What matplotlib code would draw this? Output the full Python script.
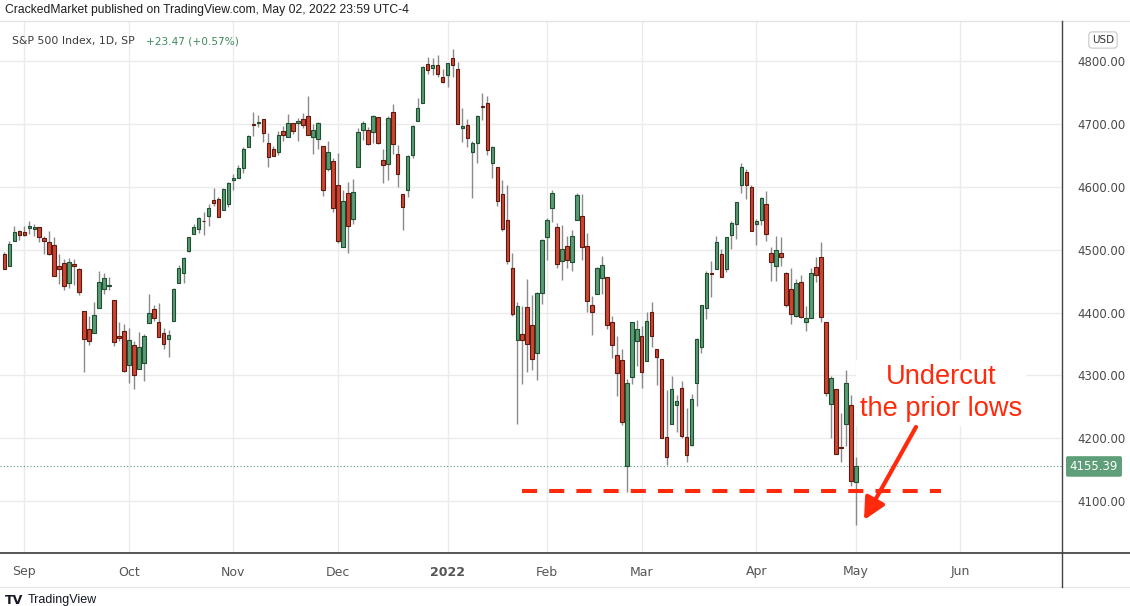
import numpy as np
import matplotlib.pyplot as plt
from matplotlib.lines import Line2D
from matplotlib.transforms import blended_transform_factory

# --- S&P 500 daily candles, Aug 26 2021 - May 02 2022 ---
dates = [
    "2021-08-26", "2021-08-27", "2021-08-30", "2021-08-31",
    "2021-09-01", "2021-09-02", "2021-09-03", "2021-09-07", "2021-09-08", "2021-09-09", "2021-09-10",
    "2021-09-13", "2021-09-14", "2021-09-15", "2021-09-16", "2021-09-17", "2021-09-20", "2021-09-21",
    "2021-09-22", "2021-09-23", "2021-09-24", "2021-09-27", "2021-09-28", "2021-09-29", "2021-09-30",
    "2021-10-01", "2021-10-04", "2021-10-05", "2021-10-06", "2021-10-07", "2021-10-08", "2021-10-11",
    "2021-10-12", "2021-10-13", "2021-10-14", "2021-10-15", "2021-10-18", "2021-10-19", "2021-10-20",
    "2021-10-21", "2021-10-22", "2021-10-25", "2021-10-26", "2021-10-27", "2021-10-28", "2021-10-29",
    "2021-11-01", "2021-11-02", "2021-11-03", "2021-11-04", "2021-11-05", "2021-11-08", "2021-11-09",
    "2021-11-10", "2021-11-11", "2021-11-12", "2021-11-15", "2021-11-16", "2021-11-17", "2021-11-18",
    "2021-11-19", "2021-11-22", "2021-11-23", "2021-11-24", "2021-11-26", "2021-11-29", "2021-11-30",
    "2021-12-01", "2021-12-02", "2021-12-03", "2021-12-06", "2021-12-07", "2021-12-08", "2021-12-09",
    "2021-12-10", "2021-12-13", "2021-12-14", "2021-12-15", "2021-12-16", "2021-12-17", "2021-12-20",
    "2021-12-21", "2021-12-22", "2021-12-23", "2021-12-27", "2021-12-28", "2021-12-29", "2021-12-30",
    "2021-12-31",
    "2022-01-03", "2022-01-04", "2022-01-05", "2022-01-06", "2022-01-07", "2022-01-10", "2022-01-11",
    "2022-01-12", "2022-01-13", "2022-01-14", "2022-01-18", "2022-01-19", "2022-01-20", "2022-01-21",
    "2022-01-24", "2022-01-25", "2022-01-26", "2022-01-27", "2022-01-28", "2022-01-31",
    "2022-02-01", "2022-02-02", "2022-02-03", "2022-02-04", "2022-02-07", "2022-02-08", "2022-02-09",
    "2022-02-10", "2022-02-11", "2022-02-14", "2022-02-15", "2022-02-16", "2022-02-17", "2022-02-18",
    "2022-02-22", "2022-02-23", "2022-02-24", "2022-02-25", "2022-02-28",
    "2022-03-01", "2022-03-02", "2022-03-03", "2022-03-04", "2022-03-07", "2022-03-08", "2022-03-09",
    "2022-03-10", "2022-03-11", "2022-03-14", "2022-03-15", "2022-03-16", "2022-03-17", "2022-03-18",
    "2022-03-21", "2022-03-22", "2022-03-23", "2022-03-24", "2022-03-25", "2022-03-28", "2022-03-29",
    "2022-03-30", "2022-03-31",
    "2022-04-01", "2022-04-04", "2022-04-05", "2022-04-06", "2022-04-07", "2022-04-08", "2022-04-11",
    "2022-04-12", "2022-04-13", "2022-04-14", "2022-04-18", "2022-04-19", "2022-04-20", "2022-04-21",
    "2022-04-22", "2022-04-25", "2022-04-26", "2022-04-27", "2022-04-28", "2022-04-29",
    "2022-05-02",
]

opens = [
    4493.75, 4474.10, 4513.76, 4529.75,
    4528.80, 4534.48, 4532.42, 4535.38, 4518.09, 4513.02, 4506.92, 4474.81, 4479.33, 4447.49, 4477.09,
    4469.74, 4402.95, 4374.45, 4367.43, 4406.75, 4438.04, 4442.12, 4419.54, 4362.41, 4370.67,
    4317.16, 4348.84, 4309.87, 4319.57, 4383.73, 4406.51, 4385.44, 4368.31, 4358.01, 4386.75, 4447.69,
    4463.72, 4497.34, 4524.42, 4532.24, 4546.12, 4553.69, 4578.69, 4580.22, 4562.84, 4572.87,
    4610.62, 4613.34, 4630.65, 4662.93, 4699.26, 4701.48, 4707.25, 4670.26, 4659.39, 4655.24, 4689.30,
    4679.42, 4701.50, 4700.72, 4708.44, 4712.00, 4678.48, 4675.78, 4664.63, 4628.75, 4640.25,
    4602.82, 4504.73, 4589.49, 4548.37, 4631.97, 4690.86, 4691.00, 4687.64, 4710.30, 4642.99, 4636.46,
    4719.13, 4652.50, 4587.90, 4594.96, 4650.36, 4703.96, 4733.99, 4795.49, 4788.64, 4794.23, 4775.21,
    4778.14, 4804.51, 4787.99, 4693.39, 4697.66, 4655.34, 4669.14, 4728.59, 4733.56, 4637.99, 4632.24,
    4588.03, 4547.35, 4471.38, 4356.32, 4366.64, 4408.43, 4380.58, 4336.19, 4431.79,
    4519.57, 4566.39, 4535.41, 4482.79, 4505.75, 4480.02, 4547.00, 4553.24, 4506.27, 4412.61, 4429.28,
    4455.75, 4456.06, 4384.57, 4332.74, 4324.93, 4155.77, 4298.38, 4354.17,
    4363.14, 4322.56, 4401.31, 4342.12, 4327.01, 4202.66, 4223.10, 4252.55, 4279.50, 4202.75, 4188.82,
    4288.14, 4345.11, 4407.34, 4462.40, 4469.10, 4493.10, 4469.98, 4522.66, 4541.09, 4602.86, 4624.20,
    4599.02,
    4540.32, 4547.97, 4572.45, 4494.17, 4474.65, 4494.15, 4462.64, 4437.59, 4394.30, 4449.12, 4385.63,
    4390.63, 4472.26, 4489.17, 4385.83, 4255.34, 4278.14, 4186.52, 4222.58, 4253.75,
    4130.61,
]

highs = [
    4495.90, 4513.33, 4537.36, 4531.39,
    4537.11, 4545.85, 4541.45, 4535.38, 4521.79, 4529.90, 4520.47, 4492.99, 4485.68, 4486.87, 4485.87,
    4471.52, 4402.95, 4394.87, 4416.75, 4465.40, 4463.12, 4457.30, 4419.54, 4385.57, 4382.55,
    4375.19, 4355.51, 4369.23, 4365.57, 4429.97, 4412.02, 4415.88, 4374.89, 4372.87, 4439.73, 4475.82,
    4488.75, 4520.40, 4540.87, 4551.44, 4559.67, 4572.62, 4598.53, 4584.57, 4597.55, 4608.08,
    4620.34, 4635.15, 4663.46, 4683.00, 4718.50, 4714.92, 4708.53, 4684.85, 4664.55, 4688.47, 4697.42,
    4714.95, 4701.50, 4708.80, 4717.75, 4743.83, 4699.39, 4702.87, 4664.63, 4672.95, 4646.02,
    4652.94, 4595.46, 4608.03, 4612.60, 4694.04, 4705.06, 4695.26, 4713.57, 4710.30, 4660.47, 4712.60,
    4731.99, 4666.70, 4587.90, 4651.14, 4697.67, 4740.74, 4791.49, 4807.02, 4804.06, 4808.93, 4786.83,
    4796.64, 4818.62, 4797.70, 4725.01, 4707.95, 4673.02, 4714.13, 4748.83, 4744.13, 4665.13, 4632.24,
    4611.55, 4602.11, 4494.52, 4417.35, 4411.01, 4453.23, 4428.74, 4432.72, 4516.89,
    4550.49, 4595.31, 4542.88, 4539.66, 4521.86, 4531.32, 4590.03, 4588.92, 4526.33, 4426.22, 4472.77,
    4489.55, 4456.06, 4394.60, 4362.12, 4341.51, 4294.73, 4385.34, 4388.84,
    4378.45, 4401.48, 4416.78, 4342.12, 4327.01, 4276.94, 4299.40, 4268.28, 4291.01, 4247.57, 4271.05,
    4358.90, 4412.67, 4465.40, 4481.75, 4522.00, 4501.07, 4520.58, 4546.03, 4575.65, 4637.30, 4627.77,
    4603.07,
    4548.70, 4583.50, 4593.45, 4503.94, 4521.16, 4520.41, 4464.35, 4471.00, 4453.92, 4460.46, 4410.31,
    4471.03, 4488.29, 4512.94, 4385.83, 4299.02, 4278.14, 4240.71, 4308.45, 4269.68,
    4169.81,
]

lows = [
    4468.99, 4474.10, 4513.76, 4515.80,
    4522.02, 4524.66, 4521.94, 4513.00, 4493.95, 4492.07, 4457.66, 4445.70, 4435.46, 4438.37, 4443.80,
    4427.76, 4305.91, 4347.96, 4367.43, 4406.75, 4430.27, 4436.19, 4346.33, 4355.08, 4306.24,
    4288.52, 4278.94, 4309.87, 4290.49, 4383.73, 4386.22, 4360.59, 4342.09, 4329.92, 4386.75, 4447.69,
    4447.47, 4496.41, 4524.40, 4526.89, 4524.00, 4537.36, 4569.17, 4551.66, 4562.84, 4567.59,
    4595.06, 4613.34, 4621.19, 4662.59, 4681.32, 4694.39, 4670.87, 4630.86, 4648.31, 4650.77, 4672.86,
    4679.42, 4684.41, 4672.78, 4694.22, 4682.17, 4652.66, 4659.89, 4585.43, 4625.26, 4560.00,
    4510.27, 4504.73, 4495.12, 4540.51, 4631.97, 4674.52, 4665.98, 4670.24, 4667.60, 4606.52, 4611.22,
    4651.89, 4600.22, 4531.10, 4583.16, 4645.53, 4703.96, 4733.99, 4780.04, 4778.08, 4775.33, 4765.75,
    4758.17, 4774.27, 4699.44, 4671.26, 4662.74, 4582.24, 4638.27, 4706.71, 4650.29, 4614.75, 4568.70,
    4530.20, 4477.95, 4395.34, 4222.62, 4287.11, 4304.80, 4309.50, 4292.46, 4414.02,
    4483.53, 4544.32, 4470.39, 4451.50, 4471.47, 4465.40, 4547.00, 4484.31, 4401.41, 4364.84, 4429.28,
    4429.68, 4373.81, 4327.22, 4267.11, 4221.51, 4114.65, 4286.83, 4315.12,
    4279.54, 4322.56, 4345.56, 4284.98, 4199.85, 4157.87, 4223.10, 4209.80, 4200.49, 4161.72, 4187.90,
    4251.99, 4335.65, 4390.57, 4424.30, 4469.10, 4455.81, 4465.17, 4501.07, 4517.69, 4589.66, 4581.32,
    4530.41,
    4507.57, 4539.21, 4514.17, 4450.04, 4450.30, 4474.60, 4408.38, 4381.34, 4392.70, 4390.77, 4370.30,
    4390.63, 4448.76, 4384.47, 4267.62, 4200.82, 4175.04, 4162.90, 4188.63, 4124.28,
    4062.51,
]

closes = [
    4469.91, 4509.37, 4528.79, 4522.68,
    4524.09, 4536.95, 4535.43, 4520.03, 4514.07, 4493.28, 4458.58, 4468.73, 4443.05, 4480.70, 4473.75,
    4432.99, 4357.73, 4354.19, 4395.64, 4448.98, 4455.48, 4443.11, 4352.63, 4359.46, 4307.54,
    4357.04, 4300.46, 4345.72, 4363.55, 4399.76, 4391.34, 4361.19, 4350.65, 4363.80, 4438.26, 4471.37,
    4486.46, 4519.63, 4536.19, 4549.78, 4544.90, 4566.48, 4574.79, 4551.68, 4596.42, 4605.38,
    4613.67, 4630.65, 4660.57, 4680.06, 4697.53, 4701.70, 4685.25, 4646.71, 4649.27, 4682.85, 4682.80,
    4700.90, 4688.67, 4704.54, 4697.96, 4682.94, 4690.70, 4701.46, 4594.62, 4655.27, 4567.00,
    4513.04, 4577.10, 4538.43, 4591.67, 4686.75, 4701.21, 4667.45, 4712.02, 4668.97, 4634.09, 4709.85,
    4668.67, 4620.64, 4568.02, 4649.23, 4696.56, 4725.79, 4791.19, 4786.35, 4793.06, 4778.73, 4766.18,
    4796.56, 4793.54, 4700.58, 4696.05, 4677.03, 4670.29, 4713.07, 4726.35, 4659.03, 4662.85, 4577.11,
    4532.76, 4482.73, 4397.94, 4410.13, 4356.45, 4349.93, 4326.51, 4431.85, 4515.55,
    4546.54, 4589.38, 4477.44, 4500.53, 4483.87, 4521.54, 4587.18, 4504.08, 4418.64, 4401.67, 4471.07,
    4475.01, 4380.26, 4348.87, 4304.76, 4225.50, 4288.70, 4384.65, 4373.94,
    4306.26, 4386.54, 4363.49, 4328.87, 4201.09, 4170.70, 4277.88, 4259.52, 4204.31, 4173.11, 4262.45,
    4357.86, 4411.67, 4463.12, 4461.18, 4511.61, 4456.24, 4520.16, 4543.06, 4575.52, 4631.60, 4602.45,
    4530.41,
    4545.86, 4582.64, 4525.12, 4481.15, 4500.21, 4488.28, 4412.53, 4397.45, 4446.59, 4392.59, 4391.69,
    4462.21, 4459.45, 4393.66, 4271.78, 4296.12, 4175.20, 4183.96, 4287.50, 4131.93,
    4155.39,
]

month_labels = ["Sep", "Oct", "Nov", "Dec", "2022", "Feb", "Mar", "Apr", "May", "Jun"]
may_trading_days = 21           # used to place the (future) Jun marker
price_ticks = [4100, 4200, 4300, 4400, 4500, 4600, 4700, 4800]
support_level = 4116            # the prior lows, dashed line
change_text = "+23.47 (+0.57%)"

GREEN = "#5a9b73"
RED = "#cd4531"
ANNOT = "#ff2a0c"

fig = plt.figure(figsize=(11.3, 6.06), dpi=100)
W, H = 1130, 606
ax = fig.add_axes([0, 53 / H, 1062 / W, 531 / H])

x = np.arange(len(dates))
o = np.array(opens)
hi = np.array(highs)
lo = np.array(lows)
c = np.array(closes)
up = c >= o

# wicks then bodies
ax.vlines(x, lo, hi, color="#8a8a8a", lw=1, zorder=2)
ax.bar(x, np.maximum(np.abs(c - o), 1.2), bottom=np.minimum(o, c), width=0.7,
       color=np.where(up, GREEN, RED), edgecolor=np.where(up, "#1f4f31", "#5c1a10"),
       linewidth=0.8, zorder=3)

ax.set_xlim(-0.88, 212.4)
ax.set_ylim(4017.8, 4862)

# month gridlines / labels
month_pos = [i for i in range(1, len(dates)) if dates[i][:7] != dates[i - 1][:7]]
month_pos.append(month_pos[-1] + may_trading_days)
ax.set_xticks(month_pos, month_labels)
for t in ax.get_xticklabels():
    if t.get_text() == "2022":
        t.set_fontweight("bold")
        t.set_color("#222222")
ax.tick_params(axis="x", length=0, pad=9, labelsize=9, labelcolor="#555555")

ax.set_yticks(price_ticks, [f"{v:.2f}" for v in price_ticks])
ax.yaxis.tick_right()
ax.tick_params(axis="y", length=0, pad=11, labelsize=8.5, labelcolor="#4a4a4a")

ax.grid(color="#ebebeb", lw=1)
ax.set_axisbelow(True)
for s in ax.spines.values():
    s.set_visible(False)

# last price dotted line + tag
ax.axhline(c[-1], color=GREEN, ls=(0, (1, 2)), lw=0.8, zorder=1)
tag_tr = blended_transform_factory(ax.transAxes, ax.transData)
ax.text(1094 / 1062, c[-1], f"{c[-1]:.2f}", transform=tag_tr, ha="center", va="center",
        color="white", fontsize=8.5, clip_on=False,
        bbox=dict(boxstyle="round,pad=0.32,rounding_size=0.15", fc="#5e9f79", ec="none"))

# support / prior lows
ax.plot([104, 188], [support_level, support_level], color=ANNOT, lw=2.9,
        ls=(0, (3.75, 3.0)), solid_capstyle="butt", dash_capstyle="butt", zorder=4)

# annotation
ax.text(941 / 1062, (553 - 393) / 531, "Undercut\nthe prior lows", transform=ax.transAxes,
        ha="center", va="center", multialignment="center", fontsize=19.6,
        family="Liberation Sans", color=ANNOT, linespacing=1.3, zorder=5,
        bbox=dict(boxstyle="square,pad=0.15", fc="white", ec="none"))
ax.annotate("", xy=(864 / 1062, (553 - 520) / 531), xytext=(916 / 1062, (553 - 427) / 531),
            xycoords="axes fraction", textcoords="axes fraction",
            arrowprops=dict(arrowstyle="-|>,head_length=1.0,head_width=0.5", color=ANNOT,
                            lw=3, mutation_scale=13, shrinkA=0, shrinkB=0), zorder=6)

# frame lines
def hline(y, x0, x1, color, lw=1.0):
    fig.add_artist(Line2D([x0 / W, x1 / W], [1 - y / H] * 2, color=color, lw=lw))

def vline(xp, y0, y1, color, lw=1.0):
    fig.add_artist(Line2D([xp / W] * 2, [1 - y0 / H, 1 - y1 / H], color=color, lw=lw))

hline(21, 0, W, "#e3e3e3")
hline(553, 0, W, "#555555", 1.4)
hline(587, 0, W, "#e8e8e8")
vline(1062, 21, 587, "#444444", 1.0)

# header texts
fig.text(5 / W, 1 - 10 / H, "CrackedMarket published on TradingView.com, May 02, 2022 23:59 UTC-4",
         fontsize=8.7, family="Liberation Sans", color="#1e1e1e", va="center")
fig.text(12 / W, 1 - 41 / H, "S&P 500 Index, 1D, SP", fontsize=7.8,
         family="DejaVu Sans", color="#3c3c3c", va="center")
fig.text(146 / W, 1 - 41 / H, change_text, fontsize=7.6, family="DejaVu Sans",
         color="#3d8a5f", va="center")
fig.text(1103 / W, 1 - 40 / H, "USD", fontsize=7.5, family="DejaVu Sans", color="#333333",
         ha="center", va="center",
         bbox=dict(boxstyle="round,pad=0.3,rounding_size=0.3", fc="white", ec="#c8c8c8", lw=0.8))

# footer logo
fig.text(5 / W, 1 - 600 / H, "TV", fontsize=9, family="DejaVu Sans", weight="heavy",
         color="#131722", va="center")
fig.text(28 / W, 1 - 600 / H, "TradingView", fontsize=9, family="Liberation Sans",
         color="#131722", va="center")

fig.savefig("out.png", dpi=100, facecolor="white")
